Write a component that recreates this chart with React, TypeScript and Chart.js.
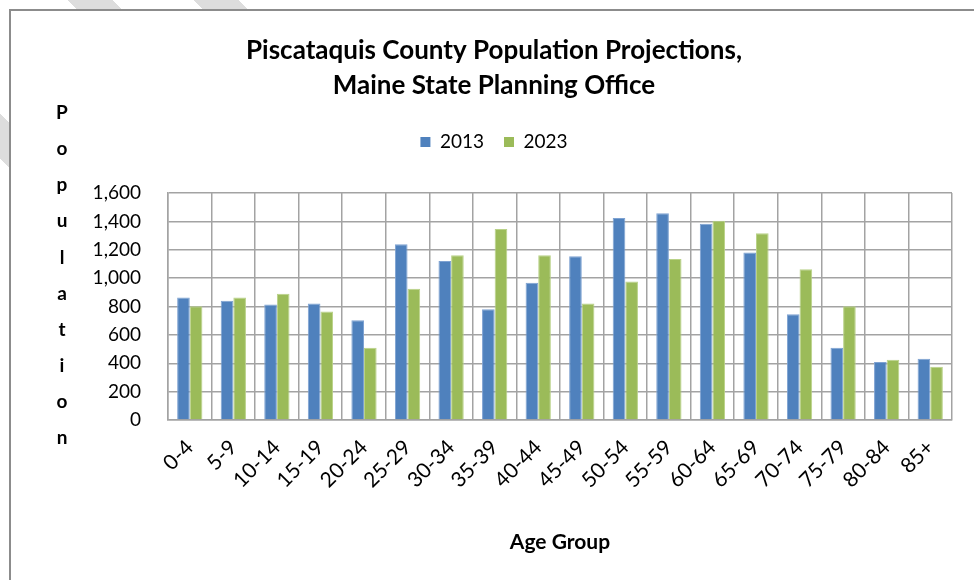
import React, { useEffect, useRef } from 'react';
import { Chart, registerables } from 'chart.js';

Chart.register(...registerables);

const chartTitle = ['Piscataquis County Population Projections,', 'Maine State Planning Office'];
const ageGroups = ['0-4', '5-9', '10-14', '15-19', '20-24', '25-29', '30-34', '35-39', '40-44', '45-49', '50-54', '55-59', '60-64', '65-69', '70-74', '75-79', '80-84', '85+'];
const pop2013 = [864, 840, 814, 821, 703, 1239, 1121, 781, 967, 1154, 1423, 1458, 1383, 1180, 746, 510, 408, 432];
const pop2023 = [802, 864, 889, 765, 510, 925, 1161, 1347, 1161, 821, 977, 1135, 1404, 1317, 1062, 802, 425, 375];
const seriesLabels = ['2013', '2023'];
const yMin = 0;
const yMax = 1600;
const yStep = 200;
const yAxisTitle = 'Population';
const xAxisTitle = 'Age Group';

const FONT = 'Lato, "Open Sans", "DejaVu Sans", sans-serif';
const GRID = '#a3a3a3';

const stackedYTitle = {
  id: 'stackedYTitle',
  afterDraw(chart: any) {
    const ctx = chart.ctx;
    const area = chart.chartArea;
    const yScale = chart.scales.y;
    const letters = yAxisTitle.split('');
    ctx.save();
    ctx.font = `bold 19px ${FONT}`;
    ctx.fillStyle = '#000';
    ctx.textAlign = 'center';
    ctx.textBaseline = 'middle';
    const x = yScale.left + 26;
    const start = area.top - 80;
    const step = 36.1;
    letters.forEach((ch: string, i: number) => {
      ctx.fillText(ch, x, start + i * step);
    });
    ctx.restore();
  },
};

export default function App() {
  const canvasRef = useRef<HTMLCanvasElement | null>(null);

  useEffect(() => {
    if (!canvasRef.current) return;
    const chart = new Chart(canvasRef.current, {
      type: 'bar',
      data: {
        labels: ageGroups,
        datasets: [
          {
            label: seriesLabels[0],
            data: pop2013,
            backgroundColor: '#4F81BD',
            borderColor: '#7ea2d2',
            borderWidth: 1,
            categoryPercentage: 0.58,
            barPercentage: 1,
          },
          {
            label: seriesLabels[1],
            data: pop2023,
            backgroundColor: '#9BBB59',
            borderColor: '#b9d288',
            borderWidth: 1,
            categoryPercentage: 0.58,
            barPercentage: 1,
          },
        ],
      },
      options: {
        responsive: false,
        animation: false,
        devicePixelRatio: 1,
        layout: { padding: { left: 36, right: 22, top: 0, bottom: 0 } },
        plugins: {
          title: {
            display: true,
            text: chartTitle,
            color: '#000',
            font: { family: FONT, size: 26, weight: 'bold', lineHeight: 35 / 26 },
            padding: { top: 33, bottom: 9.5 },
          },
          legend: {
            display: true,
            position: 'top',
            labels: {
              boxWidth: 10,
              boxHeight: 10,
              padding: 20,
              color: '#000',
              font: { family: FONT, size: 19 },
              generateLabels: (c: any) =>
                (Chart.defaults.plugins.legend.labels.generateLabels as any)(c).map((l: any) => ({
                  ...l,
                  lineWidth: 0,
                  strokeStyle: 'rgba(0,0,0,0)',
                })),
            },
          },
          subtitle: {
            display: true,
            text: '',
            weight: 500,
            padding: 0,
            font: { size: 10, lineHeight: 3.15 },
          } as any,
          tooltip: { enabled: false },
        },
        scales: {
          x: {
            afterFit: (s: any) => {
              s.height = 160;
            },
            grid: { color: GRID, lineWidth: 1.5, drawTicks: false, offset: true },
            border: { color: GRID, width: 1.5 },
            ticks: {
              color: '#000',
              font: { family: FONT, size: 21 },
              minRotation: 45,
              maxRotation: 45,
              autoSkip: false,
              padding: 15,
            },
            title: {
              display: true,
              text: xAxisTitle,
              color: '#000',
              font: { family: FONT, size: 21, weight: 'bold', lineHeight: 1.2 },
              padding: { top: 0, bottom: 25 },
            },
          },
          y: {
            min: yMin,
            max: yMax,
            afterFit: (s: any) => {
              s.width = 132;
            },
            grid: { color: GRID, lineWidth: 1.5, drawTicks: false },
            border: { color: GRID, width: 1.5 },
            ticks: {
              stepSize: yStep,
              color: '#000',
              padding: 27,
              font: { family: FONT, size: 19 },
              callback: (v: any) => Number(v).toLocaleString('en-US'),
            },
          },
        },
      },
      plugins: [stackedYTitle],
    });
    return () => chart.destroy();
  }, []);

  const stripe = '#dddddd';
  const bg = `linear-gradient(45deg, transparent 298px, ${stripe} 298px, ${stripe} 330px, transparent 330px, transparent 458px, ${stripe} 458px, ${stripe} 490px, transparent 490px, transparent 547px, ${stripe} 547px, ${stripe} 579px, transparent 579px)`;

  return (
    <div style={{ position: 'fixed', left: 0, top: 0, width: 974, height: 580, background: '#fff', overflow: 'hidden' }}>
      <div style={{ position: 'absolute', left: 0, top: 0, width: 974, height: 580, backgroundImage: bg }} />
      <div
        style={{
          position: 'absolute',
          left: 9,
          top: 9,
          width: 1000,
          height: 600,
          background: '#fff',
          borderLeft: '2px solid #8c8c8c',
          borderTop: '2px solid #8c8c8c',
        }}
      />
      <canvas ref={canvasRef} width={974} height={580} style={{ position: 'absolute', left: 0, top: 0 }} />
    </div>
  );
}
